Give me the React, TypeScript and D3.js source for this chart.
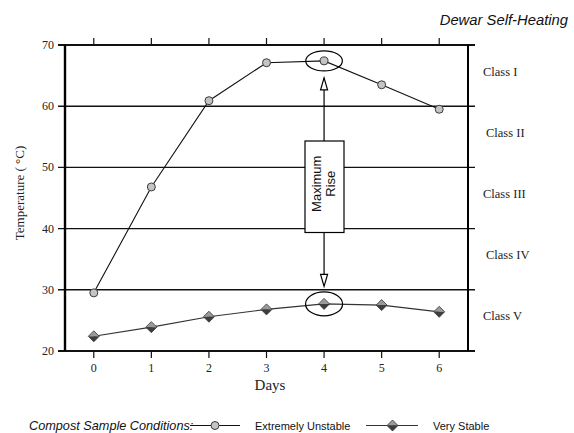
import React from 'react'
import * as d3 from 'd3'

const days = [0, 1, 2, 3, 4, 5, 6]
const extremelyUnstable = [29.5, 46.8, 60.9, 67.1, 67.4, 63.5, 59.5]
const veryStable = [22.4, 23.9, 25.6, 26.8, 27.7, 27.5, 26.4]
const yTicks = [20, 30, 40, 50, 60, 70]
const classLabels = ['Class I', 'Class II', 'Class III', 'Class IV', 'Class V']
const classMids = [65, 55, 45, 35, 25]
const peakDay = 4

const W = 574
const H = 433
const left = 65
const right = 468
const top = 45
const bottom = 351

const x = d3.scaleLinear().domain([-0.5, 6.5]).range([left, right])
const y = d3.scaleLinear().domain([20, 70]).range([bottom, top])

const serif = '"Liberation Serif", "Times New Roman", serif'
const sans = '"Liberation Sans", Arial, sans-serif'

const line = d3
  .line<number>()
  .x((_, i) => x(days[i]))
  .y(d => y(d))

function Circle({ cx, cy }: { cx: number; cy: number }) {
  return <circle cx={cx} cy={cy} r={4} fill="#c4c4c4" stroke="#3a3a3a" strokeWidth={1} />
}

function Diamond({ cx, cy }: { cx: number; cy: number }) {
  const s = 5.5
  return (
    <g>
      <path d={`M${cx - s},${cy} L${cx},${cy - s} L${cx + s},${cy} Z`} fill="#9a9a9a" />
      <path d={`M${cx - s},${cy} L${cx},${cy + s} L${cx + s},${cy} Z`} fill="#3e3e3e" />
      <path
        d={`M${cx - s},${cy} L${cx},${cy - s} L${cx + s},${cy} L${cx},${cy + s} Z`}
        fill="none"
        stroke="#333"
        strokeWidth={0.8}
      />
    </g>
  )
}

export default function App() {
  const px = x(days[peakDay])
  const boxTop = 141
  const boxBot = 232.5
  const upTip = y(extremelyUnstable[peakDay]) + 17
  const downTip = y(30) - 3.5
  const head = (tipY: number, dir: number) =>
    `M${px},${tipY} L${px - 3.5},${tipY + dir * 12} L${px + 3.5},${tipY + dir * 12} Z`

  return (
    <svg
      width={W}
      height={H}
      style={{ position: 'absolute', left: 0, top: 0, background: '#fff' }}
    >
      <text
        x={568}
        y={25}
        textAnchor="end"
        fontFamily={sans}
        fontStyle="italic"
        fontSize={14.8}
        fill="#111"
      >
        Dewar Self-Heating
      </text>

      {/* horizontal grid + frame lines */}
      {yTicks.map(t => (
        <line
          key={t}
          x1={58}
          x2={475}
          y1={y(t)}
          y2={y(t)}
          stroke="#111"
          strokeWidth={t === 20 || t === 70 ? 2.2 : 1.4}
        />
      ))}
      <line x1={left} x2={left} y1={top} y2={bottom} stroke="#000" strokeWidth={2.4} />
      <line x1={right} x2={right} y1={top} y2={bottom} stroke="#000" strokeWidth={2} />

      {days.map(d => (
        <g key={d}>
          <line x1={x(d)} x2={x(d)} y1={top} y2={top - 7} stroke="#111" strokeWidth={1.2} />
          <line x1={x(d)} x2={x(d)} y1={bottom} y2={bottom + 7} stroke="#111" strokeWidth={1.2} />
          <text x={x(d)} y={372} textAnchor="middle" fontFamily={serif} fontSize={12} fill="#222">
            {d}
          </text>
        </g>
      ))}
      {yTicks.map(t => (
        <text
          key={t}
          x={54}
          y={y(t) + 4}
          textAnchor="end"
          fontFamily={serif}
          fontSize={12}
          fill="#222"
        >
          {t}
        </text>
      ))}

      {classLabels.map((c, i) => (
        <text
          key={c}
          x={i % 2 === 0 ? 483 : 486}
          y={y(classMids[i])}
          fontFamily={serif}
          fontSize={12.5}
          fill="#222"
        >
          {c}
        </text>
      ))}

      <text
        transform={`translate(19,193) rotate(-90)`}
        textAnchor="middle"
        fontFamily={serif}
        fontSize={13}
        fill="#222"
        dy="0.35em"
      >
        Temperature ( °C)
      </text>
      <text x={270} y={390} textAnchor="middle" fontFamily={serif} fontSize={15} fill="#222">
        Days
      </text>

      {/* maximum rise annotation */}
      <line x1={px} x2={px} y1={upTip} y2={boxTop} stroke="#000" strokeWidth={1.2} />
      <line x1={px} x2={px} y1={boxBot} y2={downTip - 12} stroke="#000" strokeWidth={1.2} />
      <path d={head(upTip, 1)} fill="#fff" stroke="#000" strokeWidth={1.2} />
      <path d={head(downTip, -1)} fill="#fff" stroke="#000" strokeWidth={1.2} />
      <rect x={305} y={boxTop} width={39} height={boxBot - boxTop} fill="#fff" stroke="#000" strokeWidth={1.2} />
      <text
        transform={`translate(${px - 2},${(boxTop + boxBot) / 2 - 3}) rotate(-90)`}
        textAnchor="middle"
        fontFamily={sans}
        fontSize={13}
        fill="#111"
      >
        <tspan x={0} dy={-1}>Maximum</tspan>
        <tspan x={0} dy={14}>Rise</tspan>
      </text>

      {/* series */}
      <path d={line(extremelyUnstable) ?? ''} fill="none" stroke="#111" strokeWidth={1.1} />
      <path d={line(veryStable) ?? ''} fill="none" stroke="#333" strokeWidth={1.1} />
      {extremelyUnstable.map((v, i) => (
        <Circle key={i} cx={x(days[i])} cy={y(v)} />
      ))}
      {veryStable.map((v, i) => (
        <Diamond key={i} cx={x(days[i])} cy={y(v)} />
      ))}

      <ellipse cx={px} cy={y(extremelyUnstable[peakDay])} rx={18.3} ry={10} fill="none" stroke="#000" strokeWidth={1.2} />
      <ellipse cx={px} cy={y(veryStable[peakDay])} rx={18.5} ry={12} fill="none" stroke="#000" strokeWidth={1.2} />

      {/* legend */}
      <text x={29} y={430} fontFamily={sans} fontStyle="italic" fontSize={12.7} fill="#111">
        Compost Sample Conditions:
      </text>
      <line x1={190} x2={240} y1={425.5} y2={425.5} stroke="#111" strokeWidth={1.1} />
      <Circle cx={215} cy={425.5} />
      <text x={255} y={429.5} fontFamily={sans} fontSize={11} fill="#111">
        Extremely Unstable
      </text>
      <line x1={366} x2={418} y1={425.5} y2={425.5} stroke="#333" strokeWidth={1.1} />
      <Diamond cx={392.5} cy={425.5} />
      <text x={433} y={429.5} fontFamily={sans} fontSize={11} fill="#111">
        Very Stable
      </text>
    </svg>
  )
}
